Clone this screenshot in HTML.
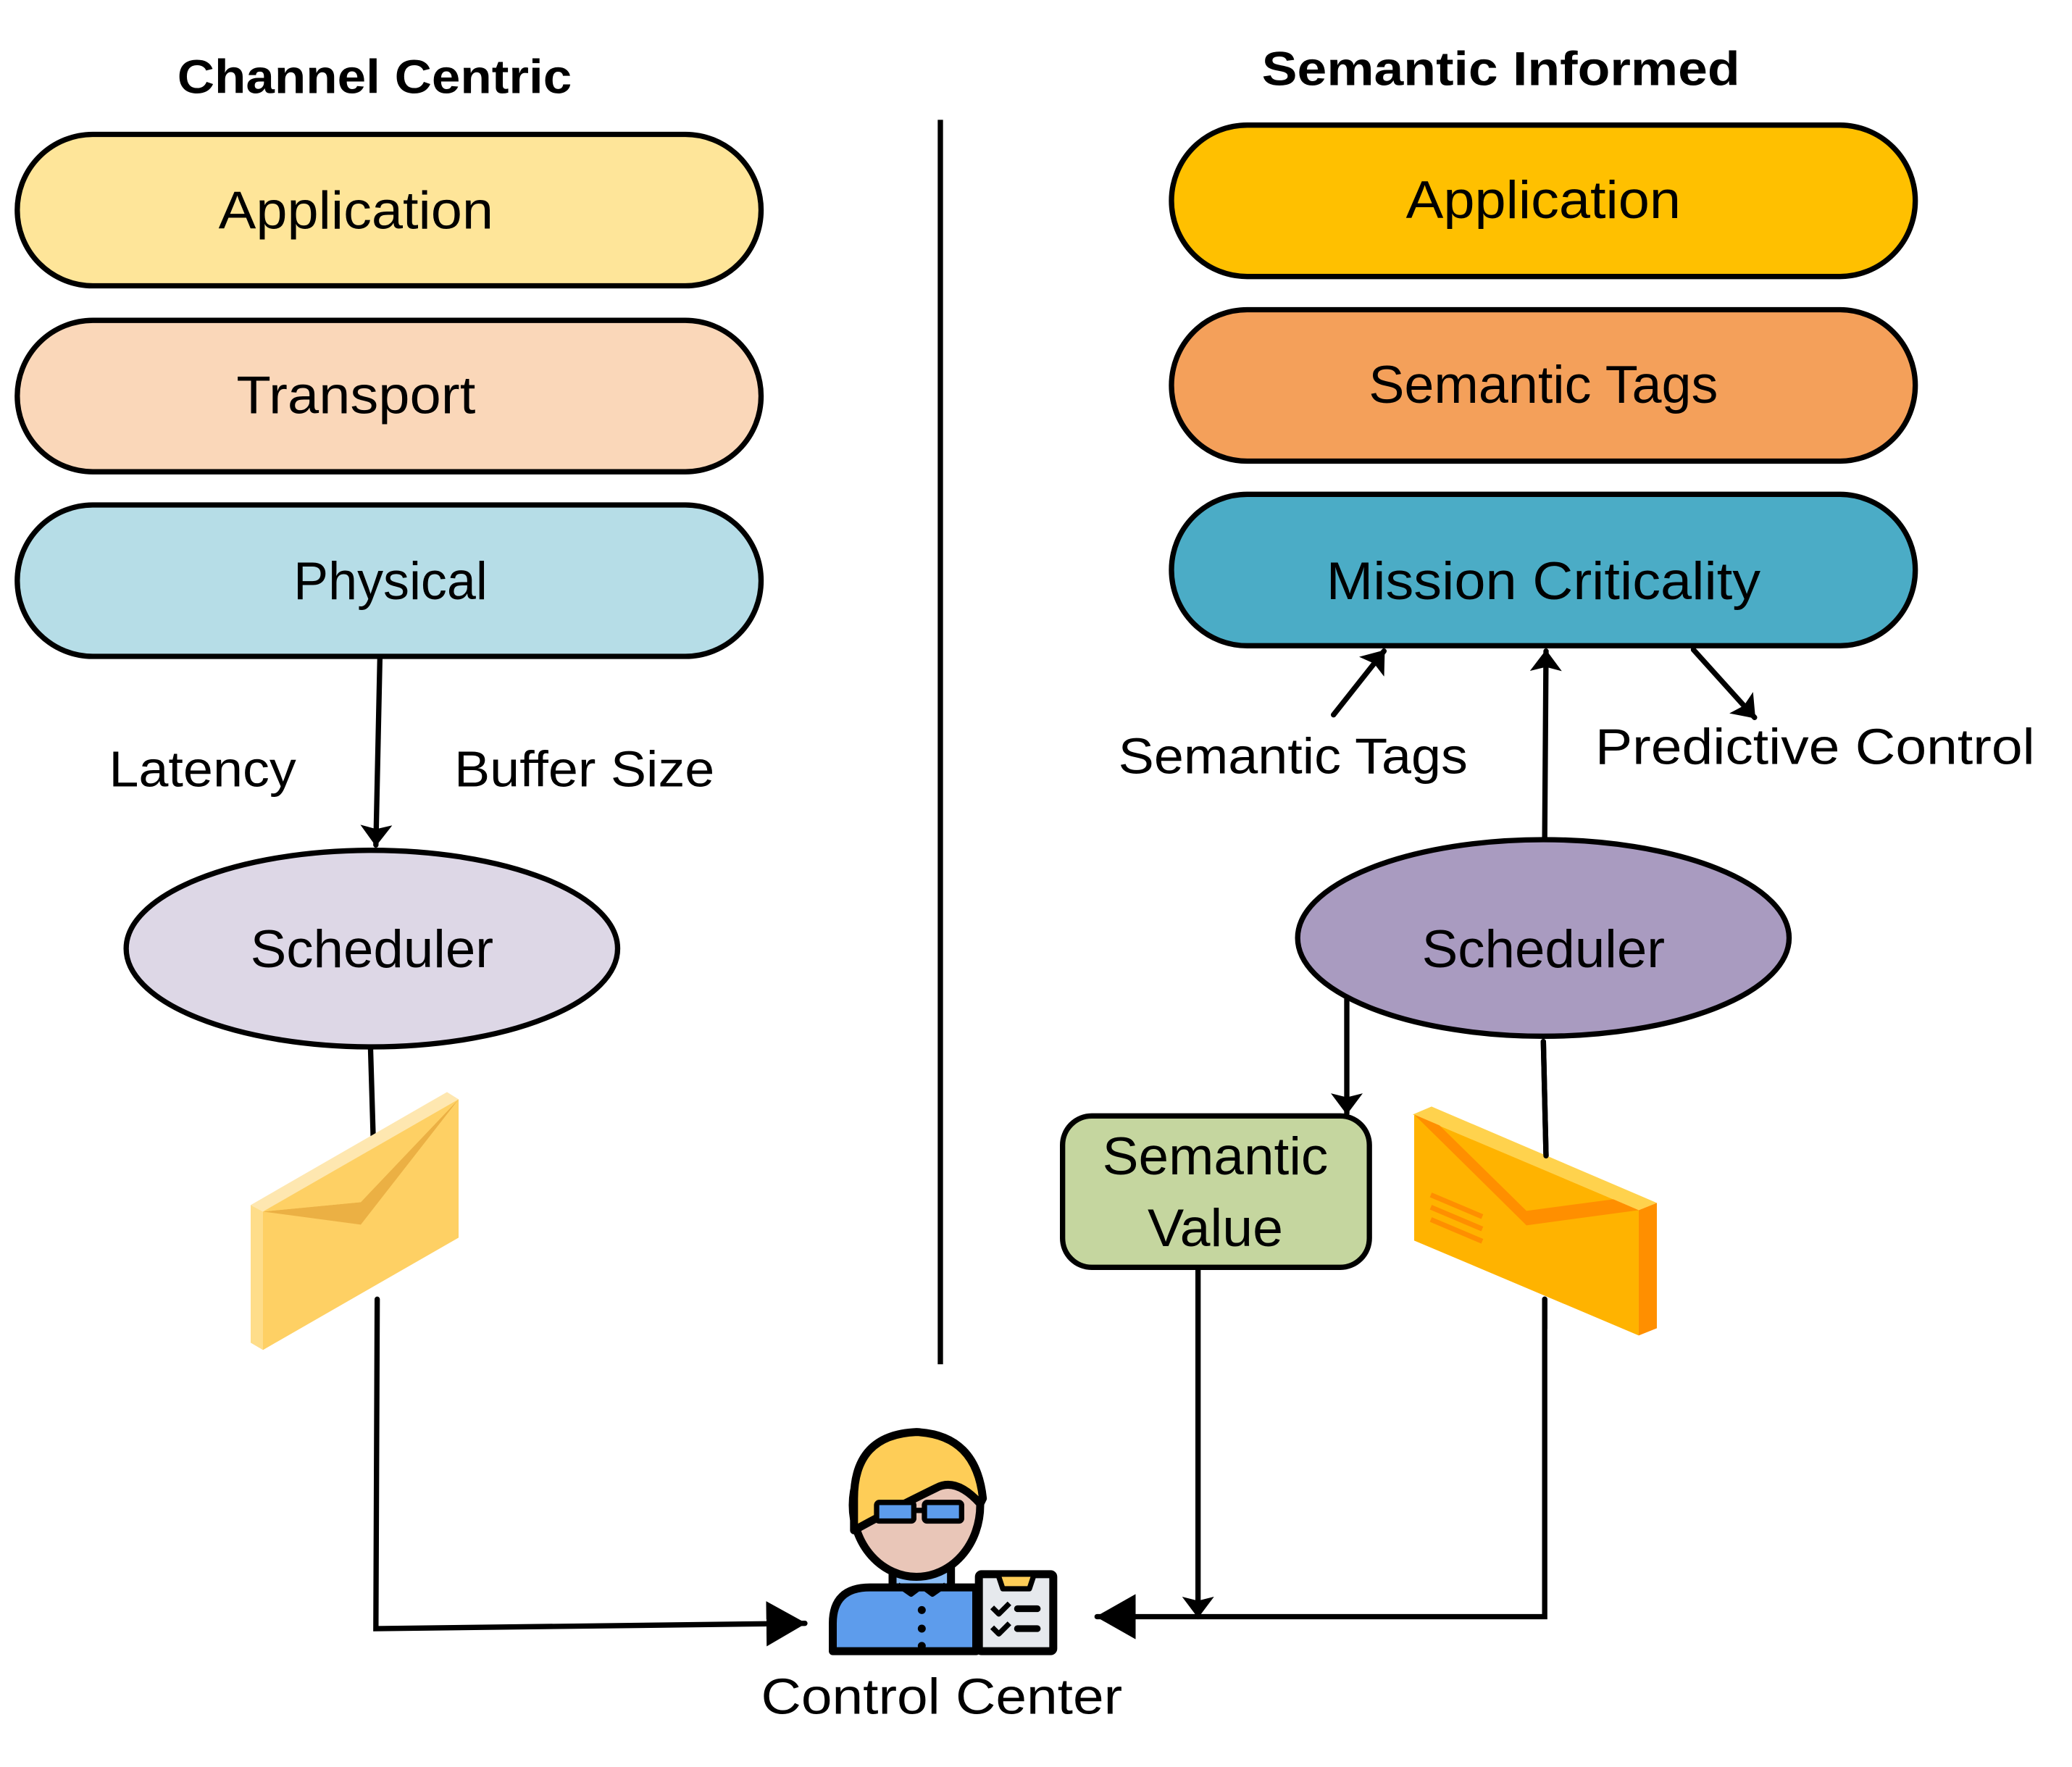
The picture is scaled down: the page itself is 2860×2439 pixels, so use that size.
<!DOCTYPE html>
<html><head><meta charset="utf-8"><style>
html,body{margin:0;padding:0;background:#fff}
svg{display:block}
text{font-family:"Liberation Sans",sans-serif;fill:#000}
</style></head><body>
<svg width="2860" height="2439" viewBox="0 0 1560 1330" xmlns="http://www.w3.org/2000/svg">
<defs>
<marker id="ah" markerWidth="10" markerHeight="10" refX="9" refY="5" orient="auto" markerUnits="userSpaceOnUse" viewBox="0 0 10 10"><path d="M0,0 L10,5 L0,10 Z" fill="#000"/></marker>
<marker id="ahb" markerWidth="30" markerHeight="34" refX="29" refY="17" orient="auto" markerUnits="userSpaceOnUse"><path d="M0,0 L30,17 L0,34 Z" fill="#000"/></marker>
<marker id="ahm" markerWidth="16" markerHeight="24" refX="15" refY="12" orient="auto" markerUnits="userSpaceOnUse"><path d="M0,0 L16,12 L0,24 L3,12 Z" fill="#000"/></marker>
</defs>

<!-- Titles -->
<text x="282" y="70" font-size="36" font-weight="bold" text-anchor="middle" textLength="297" lengthAdjust="spacingAndGlyphs">Channel Centric</text>
<text x="1130" y="64" font-size="36" font-weight="bold" text-anchor="middle" textLength="360" lengthAdjust="spacingAndGlyphs">Semantic Informed</text>

<!-- Left pills -->
<g stroke="#000" stroke-width="4">
<rect x="13" y="101" width="560" height="114" rx="57" fill="#fee599"/>
<rect x="13" y="241" width="560" height="114" rx="57" fill="#fad7b9"/>
<rect x="13" y="380" width="560" height="114" rx="57" fill="#b6dde7"/>
<rect x="882" y="94" width="560" height="114" rx="57" fill="#ffc000"/>
<rect x="882" y="233" width="560" height="114" rx="57" fill="#f4a05a"/>
<rect x="882" y="372" width="560" height="114" rx="57" fill="#4bacc6"/>
<ellipse cx="280" cy="714" rx="185" ry="74" fill="#ddd7e6"/>
<ellipse cx="1162" cy="706" rx="185" ry="74" fill="#a99bc0"/>
<rect x="800" y="840" width="231" height="114" rx="22" fill="#c5d69f"/>
</g>
<g font-size="40" text-anchor="middle">
<text x="268" y="172" textLength="207" lengthAdjust="spacingAndGlyphs">Application</text>
<text x="268" y="311" textLength="180" lengthAdjust="spacingAndGlyphs">Transport</text>
<text x="294" y="451" textLength="146" lengthAdjust="spacingAndGlyphs">Physical</text>
<text x="1162" y="164" textLength="207" lengthAdjust="spacingAndGlyphs">Application</text>
<text x="1162" y="303" textLength="263" lengthAdjust="spacingAndGlyphs">Semantic Tags</text>
<text x="1162" y="451" textLength="327" lengthAdjust="spacingAndGlyphs">Mission Criticality</text>
<text x="280" y="728" textLength="183" lengthAdjust="spacingAndGlyphs">Scheduler</text>
<text x="1162" y="728" textLength="183" lengthAdjust="spacingAndGlyphs">Scheduler</text>
<text x="915" y="884" textLength="170" lengthAdjust="spacingAndGlyphs">Semantic</text>
<text x="915" y="938" textLength="102" lengthAdjust="spacingAndGlyphs">Value</text>
</g>
<g font-size="38">
<text x="82" y="592" textLength="141" lengthAdjust="spacingAndGlyphs">Latency</text>
<text x="342" y="592" textLength="196" lengthAdjust="spacingAndGlyphs">Buffer Size</text>
<text x="842" y="582" textLength="263" lengthAdjust="spacingAndGlyphs">Semantic Tags</text>
<text x="1201" y="575" textLength="331" lengthAdjust="spacingAndGlyphs">Predictive Control</text>
<text x="573" y="1290" textLength="272" lengthAdjust="spacingAndGlyphs">Control Center</text>
</g>

<!-- divider -->
<line x1="708" y1="90" x2="708" y2="1027" stroke="#000" stroke-width="4"/>

<!-- connectors -->
<g stroke="#000" stroke-width="4" fill="none" stroke-linecap="round">
<line x1="286" y1="496" x2="283" y2="636" marker-end="url(#ahm)"/>
<line x1="279" y1="790" x2="281" y2="857"/>
<polyline points="284,978 283,1226 606,1222" marker-end="url(#ahb)"/>
<line x1="1004" y1="538" x2="1042" y2="490" marker-end="url(#ahm)"/>
<line x1="1163" y1="631" x2="1164" y2="490" marker-end="url(#ahm)"/>
<line x1="1275" y1="489" x2="1321" y2="540" marker-end="url(#ahm)"/>
<line x1="1014" y1="752" x2="1014" y2="838" marker-end="url(#ahm)"/>
<line x1="1162" y1="784" x2="1164" y2="870"/>
<polyline points="1163,978 1163,1217 826,1217" marker-end="url(#ahb)"/>
<line x1="902" y1="956" x2="902" y2="1217" marker-end="url(#ahm)"/>
</g>

<!-- envelopes in original px -->
<g transform="scale(0.54545)">
<!-- left -->
<polygon points="363,1672 633,1517 633,1708 363,1863" fill="#fed064"/>
<polygon points="346,1663 617,1507 633,1517 363,1672" fill="#fee7b0"/>
<polygon points="346,1663 363,1672 363,1863 346,1853" fill="#fedd8a"/>
<polygon points="363,1672 498,1659 633,1517 498,1690" fill="#ebb044"/>
<polygon points="363,1672 498,1659 633,1517" fill="#fed064"/>
<!-- right -->
<polygon points="1952,1538 2262,1670 2262,1843 1952,1712" fill="#ffb300"/>
<polygon points="1950,1538 1976,1527 2287,1660 2262,1670" fill="#ffd24d"/>
<polygon points="2262,1670 2287,1660 2287,1833 2262,1843" fill="#ff8f00"/>
<polygon points="1952,1538 1987,1553 2107,1671 2227,1655 2262,1670 2107,1691" fill="#ff8f00"/>
<g stroke="#ff8f00" stroke-width="7">
<line x1="1975" y1="1649" x2="2046" y2="1679"/>
<line x1="1975" y1="1666" x2="2046" y2="1696"/>
<line x1="1975" y1="1683" x2="2046" y2="1713"/>
</g>
</g>
<!-- redraw line stubs over right envelope -->
<g stroke="#000" stroke-width="4" stroke-linecap="round">
<line x1="1162" y1="784" x2="1164" y2="870"/>
<line x1="1163" y1="978" x2="1163" y2="1000"/>
</g>

<!-- person -->
<g stroke="#000" stroke-width="6" stroke-linejoin="round">
<path d="M672,1195 L672,1168 L716,1168 L716,1195 Z" fill="#8abcf5"/>
<path d="M627,1243 L627,1222 Q627,1195 655,1195 L735,1195 L735,1243 Z" fill="#5d9cec"/>
<path d="M676,1193 L686,1200 L694,1194 L702,1200 L712,1193" fill="none" stroke-width="4"/>
<ellipse cx="690" cy="1133" rx="48" ry="54" fill="#e9c6b8"/>
<path d="M643,1152 L643,1128 Q643,1080 690,1078 Q735,1080 740,1128 L738,1132 Q720,1112 705,1120 Q670,1137 643,1152 Z" fill="#fecd57"/>
<rect x="660" y="1131" width="28" height="14" rx="2" fill="#5d9cec" stroke-width="4"/>
<rect x="696" y="1131" width="28" height="14" rx="2" fill="#5d9cec" stroke-width="4"/>
<line x1="688" y1="1137" x2="696" y2="1137" stroke-width="4"/>
<rect x="737" y="1185" width="56" height="58" rx="2" fill="#e6e9ed"/>
<path d="M752,1187 L755,1196 L775,1196 L778,1187" fill="#fecd57" stroke-width="4"/>
<path d="M747,1210 L752,1215 L760,1207 M747,1225 L752,1230 L760,1222" fill="none" stroke-width="4"/>
<path d="M766,1211 L781,1211 M766,1226 L781,1226" stroke-width="5" stroke-linecap="round"/>
</g>
<g fill="#000"><circle cx="694" cy="1212" r="3"/><circle cx="694" cy="1226" r="3"/><circle cx="694" cy="1239" r="3"/></g>
</svg>
</body></html>
